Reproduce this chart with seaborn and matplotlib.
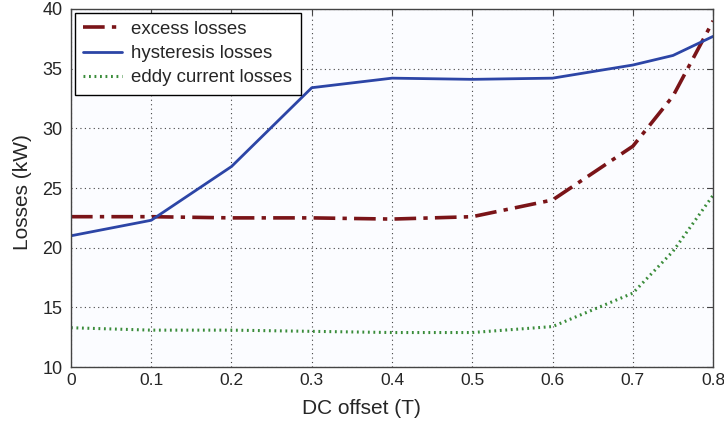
import matplotlib
matplotlib.use('Agg')
import matplotlib.pyplot as plt
import seaborn as sns
import pandas as pd

# DC offset (T)
dc_offset = [0.0, 0.1, 0.2, 0.3, 0.4, 0.5, 0.6, 0.7, 0.75, 0.8]
excess = [22.6, 22.6, 22.5, 22.5, 22.4, 22.6, 24.0, 28.5, 32.7, 39.0]
hysteresis = [21.0, 22.3, 26.8, 33.4, 34.2, 34.1, 34.2, 35.3, 36.1, 37.7]
eddy = [13.3, 13.1, 13.1, 13.0, 12.9, 12.9, 13.4, 16.2, 19.7, 24.4]

xticks = [0, 0.1, 0.2, 0.3, 0.4, 0.5, 0.6, 0.7, 0.8]
xticklabels = ['0', '0.1', '0.2', '0.3', '0.4', '0.5', '0.6', '0.7', '0.8']
yticks = [10, 15, 20, 25, 30, 35, 40]

sns.set_style('white')
plt.rcParams['font.family'] = ['Liberation Sans', 'DejaVu Sans']

df = pd.DataFrame({'x': dc_offset, 'excess': excess,
                   'hysteresis': hysteresis, 'eddy': eddy})

fig = plt.figure(figsize=(7.24, 4.23), dpi=100)
ax = fig.add_axes([0.098, 0.132, 0.887, 0.847])
ax.set_facecolor('#fbfcff')

sns.lineplot(data=df, x='x', y='excess', ax=ax, color='#7a1418', lw=2.6,
             linestyle=(0, (6, 2, 1.2, 2)), label='excess losses')
sns.lineplot(data=df, x='x', y='hysteresis', ax=ax, color='#2c45a6', lw=2,
             label='hysteresis losses')
sns.lineplot(data=df, x='x', y='eddy', ax=ax, color='#3a8c3a', lw=2.2,
             linestyle=(0, (0.6, 1.2)), label='eddy current losses')

ax.set_xlim(0, 0.8)
ax.set_ylim(10, 40)
ax.set_xticks(xticks)
ax.set_xticklabels(xticklabels)
ax.set_yticks(yticks)
ax.tick_params(labelsize=13, direction='in', length=4, top=True, right=True,
               color='#444444')
ax.tick_params(axis='x', pad=4, labelsize=12.5)
ax.tick_params(axis='y', pad=6)
ax.grid(True, linestyle=(0, (1, 3)), color='#444444', lw=0.8)
for s in ax.spines.values():
    s.set_color('#444444')
    s.set_linewidth(1)

ax.set_xlabel('DC offset (T)', fontsize=15)
ax.set_ylabel('Losses (kW)', fontsize=15)
ax.xaxis.set_label_coords(0.452, -0.089)
ax.yaxis.set_label_coords(-0.061, 0.49)

leg = ax.legend(loc='upper left', fontsize=13.4, frameon=True, fancybox=False,
                borderaxespad=0.2, handlelength=2.1, labelspacing=0.38,
                borderpad=0.45, handletextpad=0.5)
leg.get_frame().set_edgecolor('black')
leg.get_frame().set_linewidth(1)
leg.get_frame().set_alpha(1)

fig.savefig('out.png', dpi=100, facecolor='white')
